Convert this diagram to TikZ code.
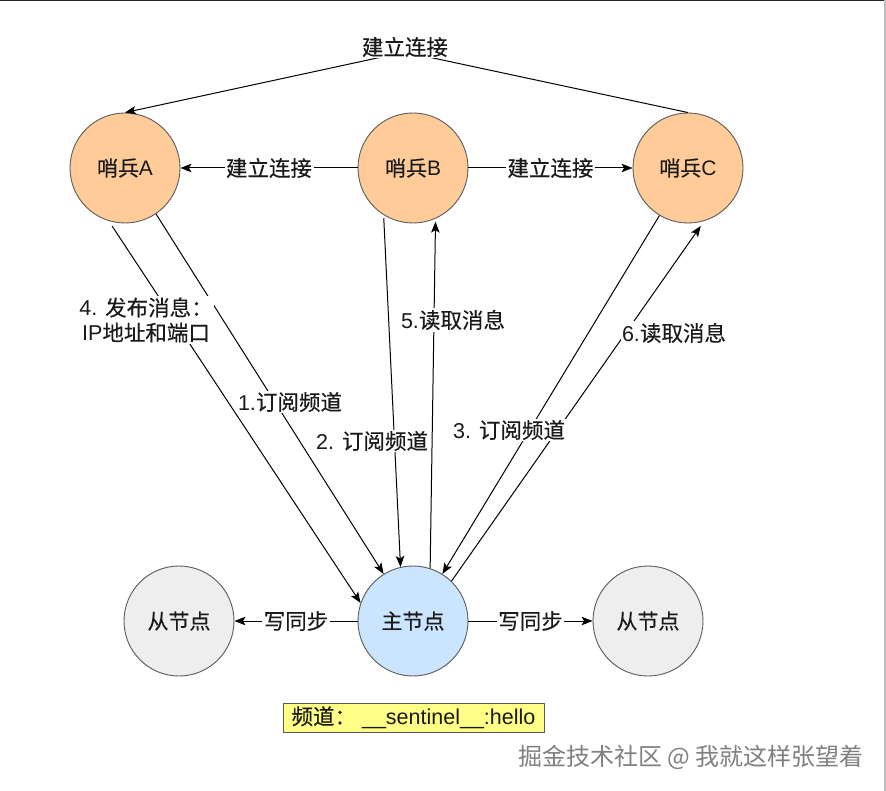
\documentclass[tikz,border=0pt]{standalone}
\usepackage{fontspec}
\setmainfont{Liberation Sans}
\newfontfamily\cjk[FakeBold=0.3]{Noto Sans CJK SC}
\newfontfamily\wmfont{Noto Sans CJK SC}
\usetikzlibrary{arrows.meta}
\definecolor{strokec}{HTML}{5A5A5A}
\definecolor{orangec}{HTML}{FFCC99}
\definecolor{bluec}{HTML}{CCE5FF}
\definecolor{grayc}{HTML}{EEEEEE}
\definecolor{yellowc}{HTML}{FFFF88}
\definecolor{txtc}{HTML}{1A1A1A}
\begin{document}
\begin{tikzpicture}[x=1pt,y=-1pt,
  nd/.style={circle, draw=strokec, line width=0.9pt, minimum size=110pt, inner sep=0pt,
             text=txtc, font=\fontsize{21}{25}\selectfont},
  sent/.style={nd, fill=orangec},
  mainn/.style={nd, fill=bluec},
  slave/.style={nd, fill=grayc},
  conn/.style={line width=1pt, draw=black, -{Stealth[length=11pt,width=8.5pt,inset=2.5pt]}},
  lbl/.style={fill=white, inner sep=1.5pt, text=txtc, align=center,
              font=\fontsize{21.5}{25}\selectfont},
  legend/.style={draw=strokec, line width=0.9pt, fill=yellowc, text=txtc,
                 font=\fontsize{21.5}{24}\selectfont, minimum width=261pt, minimum height=29pt, inner sep=0pt}
]
\useasboundingbox (0,0) rectangle (886,791);
\fill[white] (0,0) rectangle (886,791);
\draw[black!85, line width=1.5pt] (0,0.75) -- (886,0.75);
\draw[black!25, line width=1.5pt] (885,0) -- (885,791);

% nodes
\node[sent] (A) at (125,168) {{\cjk 哨兵}A};
\node[sent] (B) at (413,168) {{\cjk 哨兵}B};
\node[sent] (C) at (688,168) {{\cjk 哨兵}C};
\node[slave] (S1) at (179,621) {\cjk 从节点};
\node[mainn] (M) at (413,621) {\cjk 主节点};
\node[slave] (S2) at (648,621) {\cjk 从节点};

% top connection C -> A
\coordinate (top) at (405,52);
\draw[conn] (C.north) -- (top) -- (A.north);
\node[lbl] (toplbl) at (405,47) {\cjk 建立连接};

% horizontal connections
\draw[conn] (B) -- (A) node[lbl, midway] {\cjk 建立连接};
\draw[conn] (B) -- (C) node[lbl, midway] {\cjk 建立连接};
\draw[conn] (M) -- (S1) node[lbl, midway] {\cjk 写同步};
\draw[conn] (M) -- (S2) node[lbl, midway] {\cjk 写同步};

% diagonal connections
\draw[conn, shorten <=6pt] (A.253) -- (M.161);
\draw[conn] (A.-56) -- (M.122);
\draw[conn, shorten <=3pt] (B.-122) -- (M.103);
\draw[conn, shorten >=3pt] (M.72) -- (B.-66);
\draw[conn] (C.-121) -- (M.58);
\draw[conn, shorten >=6pt] (M.46) -- (C.-73);

% labels of diagonal connections
\node[lbl] (l4) at (146,320) {4. {\cjk 发布消息：}\\IP{\cjk 地址和端口}};
\node[lbl] (l1) at (290,402) {1.{\cjk 订阅频道}};
\node[lbl] (l2) at (372,441) {2. {\cjk 订阅频道}};
\node[lbl] (l5) at (453,320) {5.{\cjk 读取消息}};
\node[lbl] (l3) at (509,430) {3. {\cjk 订阅频道}};
\node[lbl] (l6) at (674,333) {6.{\cjk 读取消息}};

% legend
\node[legend] (leg) at (413.5,717.5) {{\cjk 频道：} \_\_sentinel\_\_:hello};

% watermark
\node[text=black!50, font=\wmfont\fontsize{24}{28}\selectfont] (wm) at (691,757) {掘金技术社区 @ 我就这样张望着};
\end{tikzpicture}
\end{document}
